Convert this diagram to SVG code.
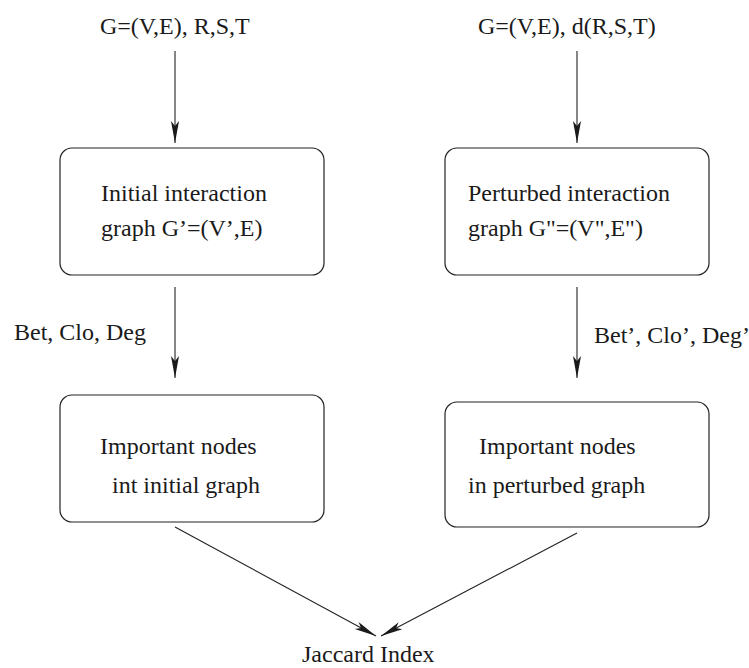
<svg xmlns="http://www.w3.org/2000/svg" width="749" height="668" viewBox="0 0 749 668">
<style>
text{font-family:"Liberation Serif","Times New Roman",serif;font-size:24px;fill:#1a1a1a}
.box{fill:#fff;stroke:#222;stroke-width:1.2}
.edge{stroke:#222;stroke-width:1.1;fill:none;marker-end:url(#ah)}
</style>
<defs>
<marker id="ah" markerUnits="userSpaceOnUse" markerWidth="24" markerHeight="12" refX="22" refY="5" orient="auto" viewBox="0 0 24 10">
<path d="M22,5 L0,1 L5,5 L0,9 Z" fill="#1a1a1a"/>
</marker>
</defs>
<rect width="749" height="668" fill="#fff"/>
<g id="input-left"><text x="100" y="34">G=(V,E), R,S,T</text></g>
<g id="input-right"><text x="478" y="34">G=(V,E), d(R,S,T)</text></g>
<g id="initial-graph">
<rect class="box" x="60" y="148" width="264" height="127" rx="12"/>
<text x="101" y="201">Initial interaction</text>
<text x="101" y="236">graph G’=(V’,E)</text>
</g>
<g id="perturbed-graph">
<rect class="box" x="445" y="148" width="264" height="127" rx="12"/>
<text x="468" y="201">Perturbed interaction</text>
<text x="468" y="236">graph G"=(V",E")</text>
</g>
<g id="important-initial">
<rect class="box" x="60" y="395" width="264" height="127" rx="12"/>
<text x="100" y="454">Important nodes</text>
<text x="112" y="493">int initial graph</text>
</g>
<g id="important-perturbed">
<rect class="box" x="445" y="402" width="264" height="125" rx="12"/>
<text x="479" y="454">Important nodes</text>
<text x="468" y="493">in perturbed graph</text>
</g>
<g id="jaccard"><text x="302" y="662">Jaccard Index</text></g>
<g id="connectors">
<line class="edge" x1="175" y1="51" x2="175" y2="143"/>
<line class="edge" x1="577" y1="51" x2="577" y2="143"/>
<line class="edge" x1="175" y1="287" x2="175" y2="378"/>
<line class="edge" x1="577" y1="287" x2="577" y2="378"/>
<line class="edge" x1="175" y1="527" x2="376" y2="636"/>
<line class="edge" x1="577" y1="533" x2="381" y2="636"/>
<text x="14" y="340">Bet, Clo, Deg</text>
<text x="594" y="343">Bet’, Clo’, Deg’</text>
</g>
</svg>
